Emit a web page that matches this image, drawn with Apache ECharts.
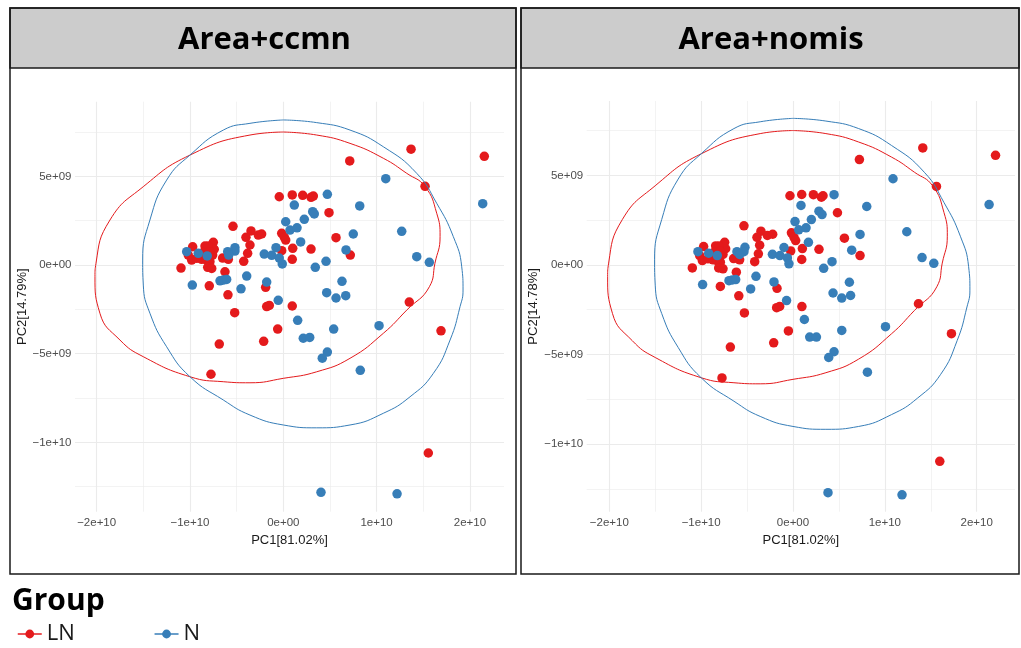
<!DOCTYPE html>
<html><head><meta charset="utf-8">
<script src="https://cdn.jsdelivr.net/npm/echarts@6/dist/echarts.min.js"></script>
<style>html,body{margin:0;padding:0;background:#fff}#c{width:1021px;height:648px}</style>
</head><body><div id="c"></div>
<script>
// ---- text ----
const panelTitles = ['Area+ccmn', 'Area+nomis'];
const xTitles = ['PC1[81.02%]', 'PC1[81.02%]'];
const yTitles = ['PC2[14.79%]', 'PC2[14.78%]'];
const groupNames = ['LN', 'N'];
const legendTitle = 'Group';

// ---- ticks (axis values in units of 1e9) ----
const xTickValues = [-20, -10, 0, 10, 20];
const xTickLabels = ['\u22122e+10', '\u22121e+10', '0e+00', '1e+10', '2e+10'];
const yTickValues = [-10, -5, 0, 5];
const yTickLabels = ['\u22121e+10', '\u22125e+09', '0e+00', '5e+09'];
const xMinorValues = [-15, -5, 5, 15];
const yMinorValues = [-12.5, -7.5, -2.5, 2.5, 7.5];

// ---- points [PC1, PC2] in units of 1e9 ----
const lnCcmn = [[-0.43,3.85],[0.96,3.95],[2.08,3.93],[2.97,3.82],[3.22,3.89],[4.90,2.95],[-5.39,2.18],[-3.46,1.92],[-4.00,1.56],[-2.68,1.69],[-2.32,1.75],[-0.17,1.79],[0.11,1.56],[0.26,1.41],[5.65,1.54],[-3.57,1.13],[1.01,0.94],[2.97,0.90],[-0.17,0.81],[-3.82,0.66],[7.18,0.56],[0.96,0.32],[-4.24,0.21],[-7.50,1.28],[-7.40,0.89],[-7.57,0.56],[-8.39,1.07],[-8.04,1.07],[-9.71,1.03],[-10.18,0.56],[-9.82,0.28],[-9.28,0.38],[-8.75,0.32],[-8.21,0.28],[-7.86,0.19],[-8.10,-0.13],[-7.67,-0.19],[-6.50,0.39],[-5.89,0.32],[-10.96,-0.17],[-6.25,-0.38],[-7.93,-1.17],[-5.93,-1.68],[-5.21,-2.69],[-1.89,-1.26],[-1.78,-2.34],[-1.50,-2.28],[0.96,-2.31],[7.12,5.87],[13.69,6.53],[21.54,6.13],[15.19,4.44],[13.50,-2.09],[16.90,-3.71],[-0.60,-3.61],[-2.10,-4.30],[15.54,-10.6],[-6.86,-4.46],[-7.75,-6.16],[-8.6,0.7],[-7.9,0.75]];
const nCcmn = [[4.72,3.99],[8.19,3.33],[1.18,3.38],[3.15,3.01],[3.32,2.88],[0.26,2.44],[2.25,2.58],[0.72,1.97],[1.47,2.10],[7.50,1.75],[1.86,1.30],[-0.78,0.98],[-2.04,0.62],[-1.24,0.55],[-0.43,0.39],[-0.11,0.06],[6.72,0.85],[4.58,0.21],[3.43,-0.13],[-5.18,0.98],[-5.18,0.79],[-5.96,0.75],[-5.85,0.56],[-10.35,0.75],[-9.11,0.66],[-8.15,0.51],[-3.92,-0.62],[-6.78,-0.89],[-6.43,-0.85],[-6.07,-0.81],[-9.75,-1.13],[-4.53,-1.34],[-1.78,-0.96],[6.29,-0.92],[4.65,-1.56],[5.65,-1.86],[6.69,-1.73],[-0.54,-1.99],[1.54,-3.12],[10.98,4.87],[21.37,3.46],[12.69,1.90],[14.30,0.47],[15.65,0.15],[10.26,-3.42],[2.14,-4.13],[2.83,-4.08],[5.40,-3.61],[4.72,-4.91],[4.18,-5.25],[8.25,-5.94],[4.04,-12.82],[12.19,-12.90]];
const lnNomis = [[-0.33,3.86],[0.95,3.93],[2.22,3.92],[3.09,3.78],[3.27,3.86],[4.84,2.91],[-5.34,2.18],[-3.49,1.88],[-3.92,1.54],[-2.79,1.64],[-2.21,1.71],[-0.17,1.79],[0.11,1.54],[0.29,1.36],[5.60,1.49],[-3.63,1.10],[1.02,0.91],[2.83,0.87],[-0.25,0.78],[-3.77,0.62],[7.30,0.52],[0.95,0.30],[-4.17,0.18],[-7.44,1.26],[-7.33,0.90],[-7.62,0.58],[-8.42,1.06],[-8.06,1.06],[-9.73,1.02],[-10.16,0.52],[-9.87,0.24],[-9.26,0.34],[-8.71,0.28],[-8.28,0.24],[-7.91,0.15],[-8.09,-0.17],[-7.62,-0.22],[-6.46,0.35],[-5.81,0.28],[-10.96,-0.17],[-6.17,-0.41],[-7.91,-1.20],[-5.90,-1.73],[-5.29,-2.68],[-1.74,-1.31],[-1.78,-2.39],[-1.45,-2.32],[0.97,-2.33],[7.23,5.88],[14.13,6.53],[22.05,6.12],[15.62,4.38],[13.66,-2.17],[17.25,-3.84],[-0.50,-3.69],[-2.10,-4.35],[15.98,-10.97],[-6.82,-4.59],[-7.73,-6.31],[-8.6,0.7],[-7.9,0.75]];
const nNomis = [[4.47,3.92],[8.03,3.26],[0.87,3.32],[2.83,3.0],[3.16,2.81],[0.22,2.42],[2.0,2.53],[0.62,1.96],[1.42,2.07],[7.30,1.70],[1.68,1.26],[-0.98,0.97],[-2.24,0.59],[-1.42,0.52],[-0.61,0.39],[-0.44,0.06],[6.39,0.82],[4.25,0.18],[3.34,-0.19],[-5.23,0.98],[-5.34,0.74],[-6.10,0.74],[-5.81,0.58],[-10.35,0.74],[-9.18,0.65],[-8.24,0.52],[-4.03,-0.64],[-6.97,-0.88],[-6.60,-0.84],[-6.24,-0.82],[-9.84,-1.10],[-4.61,-1.34],[-2.07,-0.95],[6.14,-0.97],[4.36,-1.57],[5.31,-1.85],[6.27,-1.71],[-0.70,-1.99],[1.24,-3.05],[10.89,4.81],[21.35,3.37],[12.39,1.85],[14.05,0.41],[15.33,0.09],[10.07,-3.45],[1.82,-4.03],[2.55,-4.03],[5.31,-3.66],[4.47,-4.85],[3.89,-5.17],[8.10,-5.99],[3.81,-12.72],[11.87,-12.84]];

// ---- 95% ellipse outlines [PC1, PC2] in 1e9 ----
const lnEllipse = [[0,7.50],[3.58,7.33],[7.15,6.86],[10.72,6.02],[13.23,5.17],[15.19,4.42],[16.44,2.92],[16.80,1.60],[16.25,0.10],[15.66,-1.22],[13.23,-2.54],[10.72,-3.85],[7.15,-5.26],[3.58,-6.02],[0,-6.39],[-3.57,-6.64],[-6.43,-6.58],[-10.0,-6.30],[-15.0,-5.17],[-17.5,-4.23],[-19.65,-2.72],[-20.18,-0.66],[-20.07,0.10],[-18.57,2.54],[-15.0,4.42],[-10.0,6.20],[-3.57,7.33],[0,7.50]];
const nEllipse = [[0,8.18],[3.58,8.03],[7.15,7.61],[10.72,6.67],[14.30,5.17],[16.44,3.48],[18.22,1.60],[19.12,-0.10],[19.26,-1.41],[18.94,-2.35],[17.87,-4.23],[16.08,-6.11],[13.58,-7.43],[10.72,-8.36],[7.15,-9.02],[3.58,-9.18],[0,-9.02],[-3.57,-8.46],[-6.43,-7.61],[-10.0,-6.30],[-12.50,-4.61],[-14.29,-2.72],[-15.0,-1.13],[-15.07,0.28],[-14.29,2.54],[-12.50,4.79],[-10.0,6.20],[-6.43,7.61],[-3.57,7.99],[0,8.18]];

const colors = ['#E41A1C', '#377EB8'];
const panelPoints = [[lnCcmn, nCcmn], [lnNomis, nNomis]];
const panelEllipses = [[lnEllipse, nEllipse], [lnEllipse, nEllipse]];

// layout
const grids = [
  {left: 75, top: 101.7, width: 429, height: 410},
  {left: 586.7, top: 101, width: 428.3, height: 410.7}
];
const xRanges = [[-22.32, 23.65], [-22.46, 24.17]];
const yRanges = [[-13.91, 9.21], [-13.78, 9.15]];

function lookup(vals, labs, v) {
  let best = 0, d = Infinity;
  vals.forEach((t, i) => { const e = Math.abs(t - v); if (e < d) { d = e; best = i; } });
  return labs[best];
}
const font = 'Liberation Sans';
const xAxes = [], yAxes = [], series = [];
for (let g = 0; g < 2; g++) {
  xAxes.push({
    type: 'value', gridIndex: g, min: xRanges[g][0], max: xRanges[g][1], position: 'bottom',
    axisLine: {show: false}, axisTick: {show: false, customValues: xTickValues},
    axisLabel: {customValues: xTickValues, formatter: v => lookup(xTickValues, xTickLabels, v),
      color: '#4d4d4d', fontSize: 11.5, fontFamily: font, margin: 5},
    splitLine: {show: true, lineStyle: {color: '#ebebeb', width: 1.1}},
    name: xTitles[g], nameLocation: 'middle', nameGap: 20,
    nameTextStyle: {color: '#1a1a1a', fontSize: 13, fontFamily: font}
  });
  xAxes.push({
    type: 'value', gridIndex: g, min: xRanges[g][0], max: xRanges[g][1], position: 'bottom',
    axisLine: {show: false}, axisTick: {show: false, customValues: xMinorValues},
    axisLabel: {show: false, customValues: xMinorValues},
    splitLine: {show: true, lineStyle: {color: '#ebebeb', width: 0.6}}
  });
  yAxes.push({
    type: 'value', gridIndex: g, min: yRanges[g][0], max: yRanges[g][1], position: 'left',
    axisLine: {show: false}, axisTick: {show: false, customValues: yTickValues},
    axisLabel: {customValues: yTickValues, formatter: v => lookup(yTickValues, yTickLabels, v),
      color: '#4d4d4d', fontSize: 11.5, fontFamily: font, margin: 3.5},
    splitLine: {show: true, lineStyle: {color: '#ebebeb', width: 1.1}},
    name: yTitles[g], nameLocation: 'middle', nameGap: 46,
    nameTextStyle: {color: '#1a1a1a', fontSize: 13, fontFamily: font}
  });
  yAxes.push({
    type: 'value', gridIndex: g, min: yRanges[g][0], max: yRanges[g][1], position: 'left',
    axisLine: {show: false}, axisTick: {show: false, customValues: yMinorValues},
    axisLabel: {show: false, customValues: yMinorValues},
    splitLine: {show: true, lineStyle: {color: '#ebebeb', width: 0.6}}
  });
}
for (let g = 0; g < 2; g++) {
  for (let k = 0; k < 2; k++) {
    series.push({
      type: 'line', name: groupNames[k], xAxisIndex: 2 * g, yAxisIndex: 2 * g,
      data: panelEllipses[g][k], smooth: 0.5, symbol: 'circle', showSymbol: false, z: 3,
      lineStyle: {color: colors[k], width: 1}, itemStyle: {color: colors[k]}, silent: true
    });
  }
}
for (let g = 0; g < 2; g++) {
  for (let k = 0; k < 2; k++) {
    series.push({
      type: 'scatter', name: groupNames[k], xAxisIndex: 2 * g, yAxisIndex: 2 * g,
      data: panelPoints[g][k], symbol: 'circle', symbolSize: 9.5, z: 2,
      itemStyle: {color: colors[k], opacity: 1}
    });
  }
}
const panels = [{x: 10, w: 506, cx: 264.5}, {x: 521, w: 498, cx: 771}];
const graphic = [];
panels.forEach((p, i) => {
  graphic.push({type: 'rect', shape: {x: p.x, y: 8, width: p.w, height: 60}, style: {fill: '#cccccc', stroke: '#1a1a1a', lineWidth: 1.5}});
  graphic.push({type: 'rect', shape: {x: p.x, y: 8, width: p.w, height: 566}, style: {fill: 'none', stroke: '#1a1a1a', lineWidth: 1.5}});
  graphic.push({type: 'text', x: p.cx, y: 40, style: {text: panelTitles[i], fill: '#000', font: 'bold 31px "Open Sans"', align: 'center', verticalAlign: 'middle'}});
});
graphic.push({type: 'text', x: 12, y: 601, style: {text: legendTitle, fill: '#000', font: 'bold 30px "Open Sans"', align: 'left', verticalAlign: 'middle'}});

const chart = echarts.init(document.getElementById('c'), null, {renderer: 'canvas'});
chart.setOption({
  backgroundColor: '#fff',
  animation: false,
  grid: grids,
  xAxis: xAxes,
  yAxis: yAxes,
  series: series,
  graphic: graphic,
  legend: {
    data: groupNames, left: 17, top: 623, padding: 0, itemWidth: 24, itemHeight: 11, itemGap: 79,
    selectedMode: false, lineStyle: {width: 1.5},
    textStyle: {fontSize: 22, fontFamily: 'Open Sans', color: '#1a1a1a'}
  }
});
</script></body></html>
